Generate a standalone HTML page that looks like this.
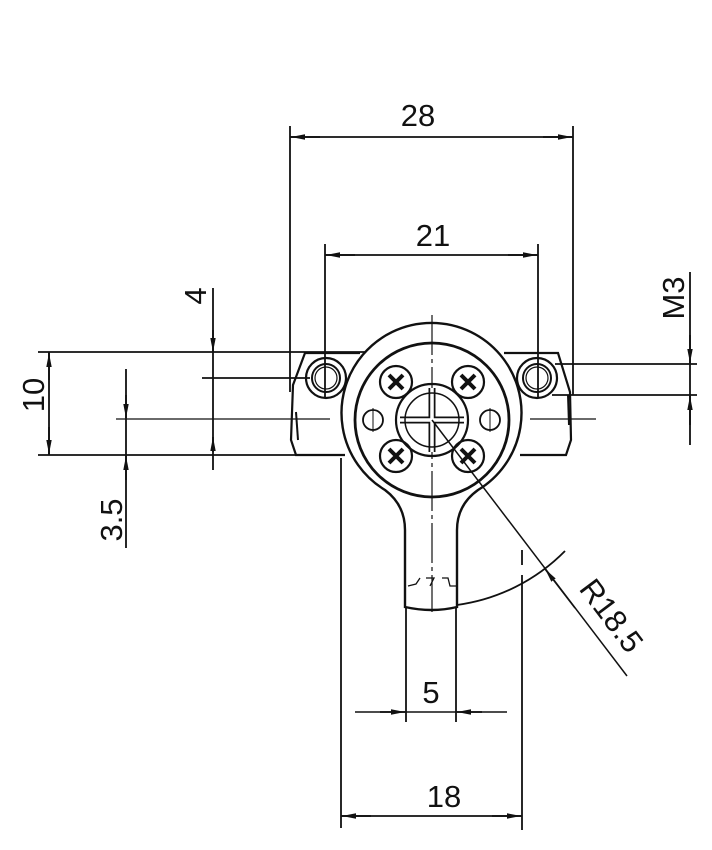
<!DOCTYPE html>
<html><head><meta charset="utf-8"><style>
html,body{margin:0;padding:0;background:#fff;}
svg{display:block}
text{font-family:"Liberation Sans",sans-serif;fill:#111;}
</style></head><body>
<svg width="712" height="850" viewBox="0 0 712 850" xmlns="http://www.w3.org/2000/svg">
<defs>
<marker id="a" viewBox="0 0 14 7" refX="14" refY="3.5" markerWidth="14" markerHeight="7" orient="auto" markerUnits="userSpaceOnUse"><path d="M0,0.8 L14,3.5 L0,6.2Z" fill="#111"/></marker>
</defs>
<g stroke="#111" fill="none" stroke-width="1.8">
<!-- 28 -->
<line x1="290" y1="126" x2="290" y2="392"/>
<line x1="573" y1="126" x2="573" y2="395"/>
<line x1="290" y1="137" x2="573" y2="137"/>
<line x1="320" y1="137" x2="291" y2="137" marker-end="url(#a)"/>
<line x1="543" y1="137" x2="572" y2="137" marker-end="url(#a)"/>
<!-- 21 -->
<line x1="325" y1="244" x2="325" y2="398"/>
<line x1="538" y1="244" x2="538" y2="398"/>
<line x1="325" y1="255" x2="538" y2="255"/>
<line x1="355" y1="255" x2="326" y2="255" marker-end="url(#a)"/>
<line x1="508" y1="255" x2="537" y2="255" marker-end="url(#a)"/>
<!-- M3 -->
<line x1="690" y1="272" x2="690" y2="445"/>
<line x1="690" y1="335" x2="690" y2="363" marker-end="url(#a)"/>
<line x1="690" y1="425" x2="690" y2="396" marker-end="url(#a)"/>
<line x1="555" y1="364" x2="697" y2="364"/>
<line x1="552" y1="395" x2="697" y2="395"/>
<!-- 10 -->
<line x1="38" y1="352" x2="365" y2="352"/>
<line x1="38" y1="455" x2="340" y2="455"/>
<line x1="49" y1="352" x2="49" y2="455"/>
<line x1="49" y1="380" x2="49" y2="353" marker-end="url(#a)"/>
<line x1="49" y1="427" x2="49" y2="454" marker-end="url(#a)"/>
<!-- 4 -->
<line x1="213" y1="288" x2="213" y2="470"/>
<line x1="213" y1="330" x2="213" y2="352" marker-end="url(#a)"/>
<line x1="213" y1="452" x2="213" y2="437" marker-end="url(#a)"/>
<line x1="202" y1="378" x2="310" y2="378"/>
<!-- 3.5 -->
<line x1="126" y1="369" x2="126" y2="548"/>
<line x1="126" y1="395" x2="126" y2="418" marker-end="url(#a)"/>
<line x1="126" y1="480" x2="126" y2="456" marker-end="url(#a)"/>
<line x1="116" y1="419" x2="330" y2="419" stroke-width="1.2"/>
<!-- centerlines -->
<line x1="530" y1="419" x2="596" y2="419" stroke-width="1.2"/>
<line x1="432" y1="315" x2="432" y2="612" stroke-width="1.2" stroke-dasharray="40,4,4,4"/>
<!-- plate -->
<path d="M360,353 L305,353 L293,385 L291,440 L296,455 L345,455" stroke-width="2.2"/>
<path d="M504,353 L558,353 L570,392 L571,440 L566,455 L520,455" stroke-width="2.2"/>
<path d="M296,412 L298,440" stroke-width="2"/>
<path d="M568,395 L569,425" stroke-width="2"/>
<!-- eyes -->
<circle cx="326" cy="378" r="20" stroke-width="2.2"/>
<circle cx="326" cy="378" r="14" stroke-width="2"/>
<circle cx="326" cy="378" r="11" stroke-width="1.2"/>
<circle cx="537" cy="378" r="20" stroke-width="2.2"/>
<circle cx="537" cy="378" r="14" stroke-width="2"/>
<circle cx="537" cy="378" r="11" stroke-width="1.2"/>
<!-- main body outline with stem -->
<path d="M405,607 L405,530 Q405,505 385,490 A90,90 0 1 1 478,490 Q457,505 457,530 L457,607 Q432,613 405,607 Z" stroke-width="2.4"/>
<circle cx="432" cy="420" r="77" stroke-width="2.8"/>
<circle cx="432" cy="420" r="36" stroke-width="2.2"/>
<path d="M400,420 L464,420 M432,388 L432,452" stroke-width="7" stroke="#111"/>
<path d="M400,420 L464,420 M432,388 L432,452" stroke-width="3.5" stroke="#fff"/>
<circle cx="432" cy="420" r="27" stroke-width="1.5"/>
<!-- screws -->
<g stroke-width="2.2">
<circle cx="396" cy="382" r="16"/><circle cx="468" cy="382" r="16"/>
<circle cx="396" cy="456" r="16"/><circle cx="468" cy="456" r="16"/>
</g>
<g stroke-width="4">
<path d="M389,375 L403,389 M403,375 L389,389"/>
<path d="M461,375 L475,389 M475,375 L461,389"/>
<path d="M389,449 L403,463 M403,449 L389,463"/>
<path d="M461,449 L475,463 M475,449 L461,463"/>
</g>
<circle cx="373" cy="420" r="10" stroke-width="1.8"/>
<circle cx="490" cy="420" r="10" stroke-width="1.8"/>
<path d="M373,408 L373,432 M490,408 L490,432" stroke-width="1"/>
<!-- break marks in stem -->
<path d="M408,586 L416,584 L420,578 M426,578 L434,578 L430,586 M442,578 L448,578 L450,586 L456,586" stroke-width="1.3"/>
<!-- R18.5 -->
<line x1="432" y1="420" x2="627" y2="676" stroke-width="1.5"/>
<line x1="575" y1="608" x2="545" y2="569" stroke-width="1.5" marker-end="url(#a)"/>
<path d="M457,605 A187,187 0 0 0 565,551" stroke-width="1.8"/>
<!-- 18 -->
<line x1="341" y1="458" x2="341" y2="828"/>
<line x1="522" y1="575" x2="522" y2="830"/>
<line x1="522" y1="550" x2="522" y2="565"/>
<line x1="341" y1="816" x2="522" y2="816"/>
<line x1="371" y1="816" x2="342" y2="816" marker-end="url(#a)"/>
<line x1="492" y1="816" x2="521" y2="816" marker-end="url(#a)"/>
<!-- 5 -->
<line x1="406" y1="607" x2="406" y2="722"/>
<line x1="456" y1="607" x2="456" y2="722"/>
<line x1="355" y1="712" x2="507" y2="712" stroke-width="1.4"/>
<line x1="380" y1="712" x2="405" y2="712" marker-end="url(#a)"/>
<line x1="482" y1="712" x2="457" y2="712" marker-end="url(#a)"/>
</g>
<g font-size="31">
<text x="418" y="126" text-anchor="middle">28</text>
<text x="433" y="246" text-anchor="middle">21</text>
<text x="444" y="807" text-anchor="middle">18</text>
<text x="431" y="703" text-anchor="middle">5</text>
<text transform="translate(44,395) rotate(-90)" text-anchor="middle">10</text>
<text transform="translate(206,296) rotate(-90)" text-anchor="middle">4</text>
<text transform="translate(122,520) rotate(-90)" text-anchor="middle">3.5</text>
<text transform="translate(684,298) rotate(-90)" text-anchor="middle">M3</text>
<text transform="translate(603,622) rotate(53)" text-anchor="middle">R18.5</text>
</g>
</svg>
</body></html>
